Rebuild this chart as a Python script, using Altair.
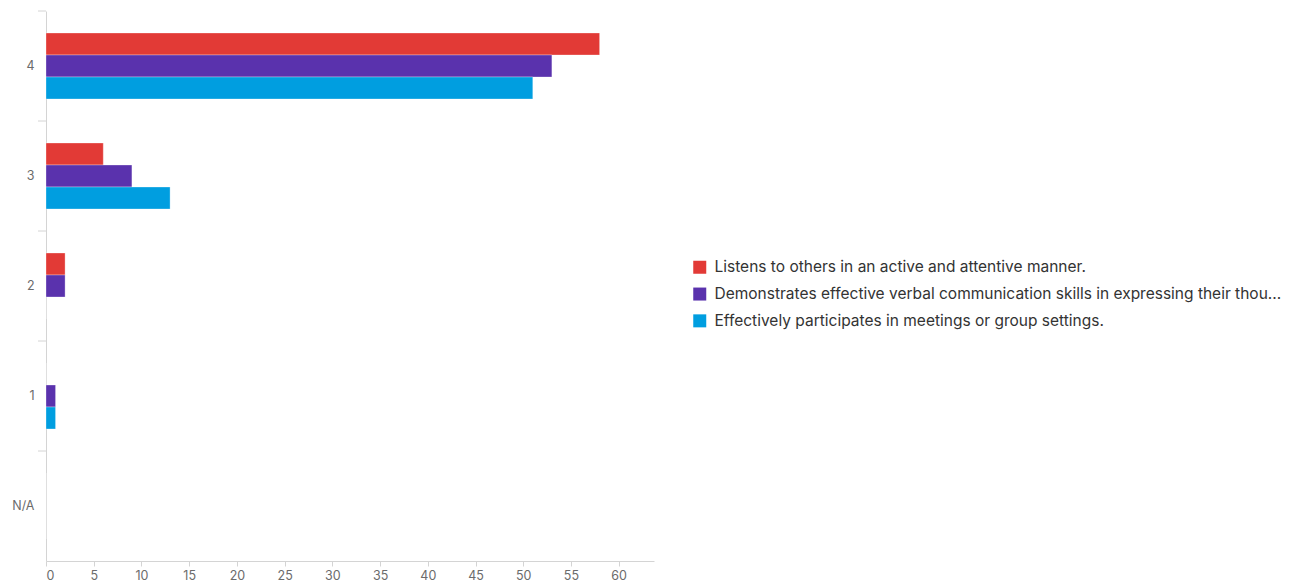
import altair as alt
import pandas as pd

categories = ["4", "3", "2", "1", "N/A"]
series = [
    "Listens to others in an active and attentive manner.",
    "Demonstrates effective verbal communication skills in expressing their thou...",
    "Effectively participates in meetings or group settings.",
]
colors = ["#e23a36", "#5a32ad", "#009ee0"]
listens = [58, 6, 2, 0, 0]
verbal = [53, 9, 2, 1, 0]
meetings = [51, 13, 0, 1, 0]
x_ticks = [0, 5, 10, 15, 20, 25, 30, 35, 40, 45, 50, 55, 60]

rows = []
for s, vals in zip(series, [listens, verbal, meetings]):
    for c, v in zip(categories, vals):
        rows.append({"cat": c, "series": s, "value": v})
df = pd.DataFrame(rows)
cats_df = pd.DataFrame({"cat": categories})

FONT = "Inter"
y_scale = alt.Scale(domain=categories, paddingInner=0, paddingOuter=0)

bars = alt.Chart(df).mark_bar(stroke="white", strokeWidth=0.5, strokeOpacity=0.6).encode(
    x=alt.X("value:Q", scale=alt.Scale(domain=[0, 63.7], nice=False),
            axis=alt.Axis(values=x_ticks, title=None, grid=False, domainColor="#d4d4d4",
                          tickColor="#d4d4d4", tickSize=5, labelPadding=3,
                          labelColor="#6b6b6b", labelFontSize=12.5, labelFont=FONT)),
    y=alt.Y("cat:N", scale=y_scale,
            axis=alt.Axis(title=None, ticks=False, domainColor="#d4d4d4", labelPadding=12,
                          labelColor="#6b6b6b", labelFontSize=12.5, labelFont=FONT)),
    yOffset=alt.YOffset("series:N", sort=series,
                        scale=alt.Scale(paddingInner=0, paddingOuter=1)),
    color=alt.Color("series:N", sort=series,
                    scale=alt.Scale(domain=series, range=colors),
                    legend=alt.Legend(title=None, orient="none", legendX=646, legendY=248.5,
                                      symbolType="square", symbolSize=169,
                                      symbolStrokeWidth=0, labelFontSize=15.5,
                                      labelOffset=7,
                                      labelFont=FONT, labelColor="#333333",
                                      labelLimit=700, rowPadding=9.8)),
)

ticks = alt.Chart(cats_df).mark_rule(color="#d4d4d4").encode(
    y=alt.Y("cat:N", scale=y_scale, bandPosition=0),
    x=alt.value(-8),
    x2=alt.value(0),
)

chart = alt.layer(bars, ticks).properties(
    width=608, height=550,
    padding={"left": 3, "top": 2, "right": 5, "bottom": 5},
).configure(background="white").configure_view(strokeWidth=0, stroke="transparent")

chart.save("out.html", embed_options={"renderer": "svg", "actions": False})
